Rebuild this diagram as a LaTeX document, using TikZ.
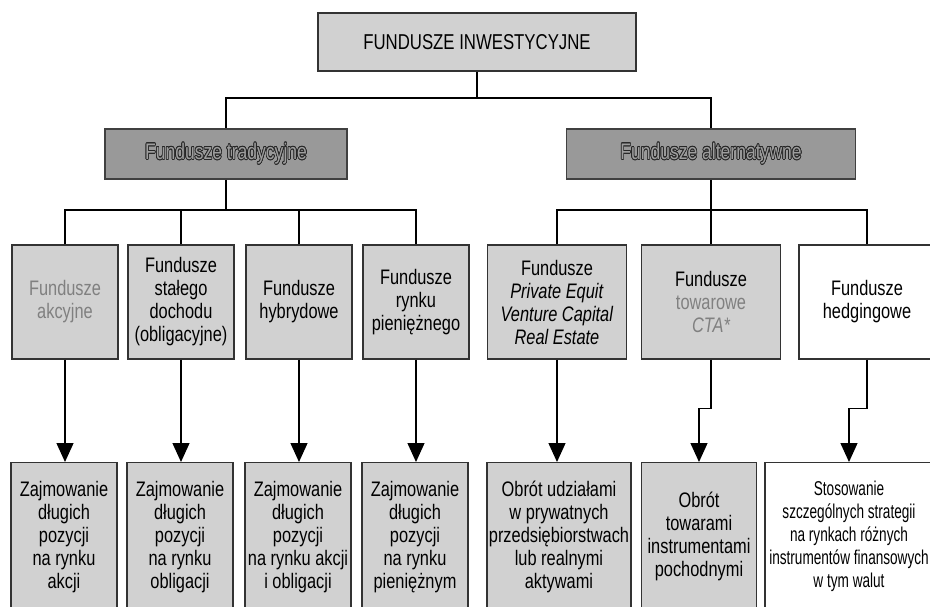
\documentclass[tikz,border=0pt]{standalone}
\usepackage{fontspec}
\setmainfont{Liberation Sans}[FakeStretch=0.78]
\newfontfamily\narrowfont{Liberation Sans}[FakeStretch=0.68]
\usepackage{contour}
\contourlength{0.7pt}
\usetikzlibrary{arrows.meta}

\begin{document}
\begin{tikzpicture}[x=1pt,y=-1pt,
  every node/.style={inner sep=0pt, align=center},
  base/.style={draw=black!80, line width=1.2pt, fill=black!18,
    font=\fontsize{21}{23}\selectfont},
  title/.style={base, minimum width=318pt, minimum height=58pt,
    font=\fontsize{21.5}{23}\selectfont},
  group/.style={draw=black!75, line width=1.6pt, fill=black!40,
    minimum height=50pt, text=black!38,
    font=\fontsize{22.5}{23}\selectfont},
  kind/.style={base, minimum height=114pt},
  act/.style={base, anchor=north, minimum height=148pt},
  plain/.style={fill=white},
  dim/.style={text=black!50},
  link/.style={line width=1.3pt, black},
  arrow/.style={link, -{Triangle[width=17pt,length=19pt]}},
]
\fill[white] (0,0) rectangle (930,606);
\useasboundingbox (0,0) rectangle (930,606);

% root and the two groups
\node[title] (root) at (477,42) {FUNDUSZE INWESTYCYJNE};
\node[group, minimum width=242pt] (trad) at (226,154)
  {\contour{black!85}{Fundusze tradycyjne}};
\node[group, minimum width=289pt] (alt) at (711,154)
  {\contour{black!85}{Fundusze alternatywne}};

% kinds of funds
\node[kind, dim, minimum width=106pt] (k1) at (65,302) {Fundusze\\akcyjne};
\node[kind, minimum width=106pt] (k2) at (181,302)
  {Fundusze\\stałego\\dochodu\\(obligacyjne)};
\node[kind, minimum width=106pt] (k3) at (299,302) {Fundusze\\hybrydowe};
\node[kind, minimum width=106pt] (k4) at (416,302) {Fundusze\\rynku\\pieniężnego};
\node[kind, minimum width=139pt] (k5) at (557,302)
  {Fundusze\\\textit{Private Equit}\\\textit{Venture Capital}\\\textit{Real Estate}};
\node[kind, minimum width=139pt] (k6) at (711,302)
  {Fundusze\\{\color{black!50}towarowe}\\{\color{black!50}\itshape CTA*}};
\node[kind, plain, minimum width=136pt] (k7) at (867,302) {Fundusze\\hedgingowe};

% what each kind does
\node[act, minimum width=106pt] (a1) at (64,462)
  {Zajmowanie\\długich\\pozycji\\na rynku\\akcji};
\node[act, minimum width=106pt] (a2) at (180,462)
  {Zajmowanie\\długich\\pozycji\\na rynku\\obligacji};
\node[act, minimum width=106pt] (a3) at (298,462)
  {Zajmowanie\\długich\\pozycji\\na rynku akcji\\i obligacji};
\node[act, minimum width=106pt] (a4) at (415,462)
  {Zajmowanie\\długich\\pozycji\\na rynku\\pieniężnym};
\node[act, minimum width=144pt] (a5) at (559,462)
  {Obrót udziałami\\w prywatnych\\przedsiębiorstwach\\lub realnymi\\aktywami};
\node[act, minimum width=115pt] (a6) at (699,462)
  {Obrót\\towarami\\instrumentami\\pochodnymi};
\node[act, plain, minimum width=168pt, font=\narrowfont\fontsize{20}{23}\selectfont] (a7) at (849,462)
  {Stosowanie\\szczególnych strategii\\na rynkach różnych\\instrumentów finansowych\\w tym walut};

% tree connectors
\coordinate (bus0) at (477,98);
\draw[link] (root.south) -- (bus0);
\draw[link] (trad.north) |- (bus0) -| (alt.north);

\coordinate (bus1) at (226,210);
\draw[link] (trad.south) -- (bus1);
\draw[link] (k1.north) |- (bus1) -| (k4.north);
\draw[link] (k2.north) -- (k2.north |- bus1);
\draw[link] (k3.north) -- (k3.north |- bus1);

\coordinate (bus2) at (711,210);
\draw[link] (alt.south) -- (bus2);
\draw[link] (k5.north) |- (bus2) -| (k7.north);
\draw[link] (k6.north) -- (bus2);

% arrows down to the activities
\draw[arrow] (k1.south) -- (k1.south |- a1.north);
\draw[arrow] (k2.south) -- (k2.south |- a2.north);
\draw[arrow] (k3.south) -- (k3.south |- a3.north);
\draw[arrow] (k4.south) -- (k4.south |- a4.north);
\draw[arrow] (k5.south) -- (k5.south |- a5.north);
\draw[arrow] (k6.south) -- ++(0,49) -| (a6.north);
\draw[arrow] (k7.south) -- ++(0,49) -| (a7.north);
\end{tikzpicture}
\end{document}
